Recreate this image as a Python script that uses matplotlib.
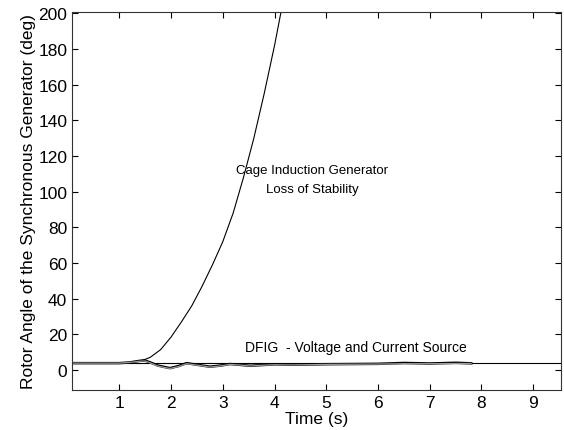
import numpy as np
import matplotlib
matplotlib.use("Agg")
import matplotlib.pyplot as plt

plt.rcParams["font.family"] = ["Liberation Sans", "DejaVu Sans"]

# cage induction generator - loss of stability
t_cage = [0.1, 1.0, 1.2, 1.4, 1.5, 1.6, 1.8, 2.0, 2.2, 2.4, 2.6, 2.8, 3.0,
          3.2, 3.4, 3.6, 3.8, 4.0, 4.2, 4.4]
ang_cage = [3.9, 3.9, 4.3, 5.3, 6.0, 7.2, 11.5, 18.5, 27, 36, 47, 59, 72,
            88, 108, 130, 155, 182, 212, 245]

# DFIG - voltage source / current source
t_dfig = [0.1, 1.0, 1.2, 1.4, 1.5, 1.6, 1.75, 1.98, 2.15, 2.30, 2.5, 2.75,
          2.95, 3.14, 3.35, 3.53, 3.75, 4.0, 4.3, 4.6, 5.0, 5.5, 6.0, 6.5,
          7.0, 7.5, 7.8]
ang_dfig_v = [3.9, 3.9, 4.3, 5.2, 5.3, 4.3, 2.5, 1.1, 2.3, 3.9, 3.0, 1.9,
              2.5, 3.4, 2.9, 2.4, 2.8, 3.2, 3.0, 3.1, 3.3, 3.4, 3.5, 4.0,
              3.7, 4.1, 3.8]
ang_dfig_c = [3.9, 3.9, 4.3, 5.0, 5.1, 4.0, 2.2, 0.9, 2.0, 3.6, 2.8, 1.7,
              2.3, 3.2, 2.8, 2.3, 2.7, 3.0, 2.9, 3.0, 3.2, 3.3, 3.4, 3.6,
              3.6, 3.7, 3.7]

ref_angle = 3.9

fig = plt.figure(figsize=(5.64, 4.31), dpi=100)
ax = fig.add_axes([0.128, 0.0935, 0.867, 0.877])

ax.axhline(ref_angle, color="black", lw=0.8)
ax.plot(t_cage, ang_cage, color="black", lw=0.8)
ax.plot(t_dfig, ang_dfig_v, color="black", lw=1.8)
ax.plot(t_dfig, ang_dfig_c, color="#9a9a9a", lw=0.9)

ax.set_xlim(0.09, 9.54)
ax.set_ylim(-11, 201)
ax.set_xticks(range(1, 10))
ax.set_yticks(range(0, 201, 20))
ax.tick_params(direction="in", top=True, right=True, length=4,
               labelsize=12.5, width=0.8)
for s in ax.spines.values():
    s.set_color("#333333")
    s.set_linewidth(0.8)

ax.set_xlabel("Time (s)", fontsize=12.5, labelpad=1)
ax.set_ylabel("Rotor Angle of the Synchronous Generator (deg)", fontsize=12.5,
              labelpad=2)

ax.text(4.73, 112, "Cage Induction Generator", fontsize=9.5,
        ha="center", va="center")
ax.text(4.73, 101.5, "Loss of Stability", fontsize=9.5,
        ha="center", va="center")
ax.text(5.58, 12.9, "DFIG  - Voltage and Current Source", fontsize=10,
        ha="center", va="center")

fig.savefig("out.png", dpi=100)
